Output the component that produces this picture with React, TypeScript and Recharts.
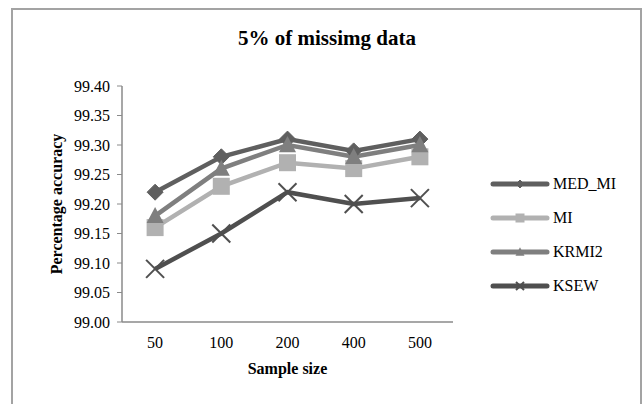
import React from 'react';
import { ComposedChart, Line, XAxis, YAxis, Legend, Label } from 'recharts';

// Sample sizes on the category axis
const sampleSizes = ['50', '100', '200', '400', '500'];

// Percentage accuracy per method
const medMiValues = [99.22, 99.28, 99.31, 99.29, 99.31];
const miValues = [99.16, 99.23, 99.27, 99.26, 99.28];
const krmi2Values = [99.18, 99.26, 99.3, 99.28, 99.3];
const ksewValues = [99.09, 99.15, 99.22, 99.2, 99.21];

// Value axis ticks
const yTicks = [99.0, 99.05, 99.1, 99.15, 99.2, 99.25, 99.3, 99.35, 99.4];

const FONT = '"Liberation Serif", "Times New Roman", serif';

type MarkerKind = 'diamond' | 'square' | 'triangle' | 'cross';

const seriesDefs: { key: string; color: string; marker: MarkerKind }[] = [
  { key: 'MED_MI', color: '#5f5f5f', marker: 'diamond' },
  { key: 'MI', color: '#b1b1b1', marker: 'square' },
  { key: 'KRMI2', color: '#7f7f7f', marker: 'triangle' },
  { key: 'KSEW', color: '#4f4f4f', marker: 'cross' },
];

const seriesValues: Record<string, number[]> = {
  MED_MI: medMiValues,
  MI: miValues,
  KRMI2: krmi2Values,
  KSEW: ksewValues,
};

const data = sampleSizes.map((size, i) => {
  const row: Record<string, string | number> = { size };
  seriesDefs.forEach((s) => {
    row[s.key] = seriesValues[s.key][i];
  });
  return row;
});

function drawMarker(kind: MarkerKind, cx: number, cy: number, size: number, color: string, key?: string) {
  const h = size / 2;
  if (kind === 'diamond') {
    return (
      <polygon
        key={key}
        points={`${cx},${cy - h} ${cx + h},${cy} ${cx},${cy + h} ${cx - h},${cy}`}
        fill={color}
        stroke={color}
      />
    );
  }
  if (kind === 'square') {
    return <rect key={key} x={cx - h} y={cy - h} width={size} height={size} fill={color} />;
  }
  if (kind === 'triangle') {
    return (
      <polygon
        key={key}
        points={`${cx},${cy - h * 1.05} ${cx + h},${cy + h * 0.85} ${cx - h},${cy + h * 0.85}`}
        fill={color}
      />
    );
  }
  return (
    <g key={key} stroke={color} strokeWidth={2}>
      <line x1={cx - h} y1={cy - h} x2={cx + h} y2={cy + h} />
      <line x1={cx - h} y1={cy + h} x2={cx + h} y2={cy - h} />
    </g>
  );
}

const markerSizes: Record<MarkerKind, number> = {
  diamond: 16,
  square: 17,
  triangle: 17,
  cross: 18,
};

const legendMarkerSizes: Record<MarkerKind, number> = {
  diamond: 8,
  square: 9,
  triangle: 9,
  cross: 8,
};

function LegendContent() {
  return (
    <div style={{ fontFamily: FONT, fontSize: 16, color: '#000' }}>
      {seriesDefs.map((s) => (
        <div key={s.key} style={{ display: 'flex', alignItems: 'center', height: 34 }}>
          <svg width={61} height={20} style={{ display: 'block' }}>
            <line x1={3} y1={10} x2={57} y2={10} stroke={s.color} strokeWidth={5} strokeLinecap="round" />
            {drawMarker(s.marker, 30, 10, legendMarkerSizes[s.marker], s.color)}
          </svg>
          <span style={{ marginLeft: 2, whiteSpace: 'nowrap' }}>{s.key}</span>
        </div>
      ))}
    </div>
  );
}

function YLabel(props: any) {
  const vb = props.viewBox || {};
  const cy = vb.y + vb.height / 2;
  return (
    <text
      x={56}
      y={cy}
      transform={`rotate(-90, 56, ${cy})`}
      textAnchor="middle"
      dominantBaseline="central"
      fontFamily={FONT}
      fontSize={16}
      fontWeight="bold"
      fill="#000"
    >
      Percentage accuracy
    </text>
  );
}

export default function App() {
  return (
    <div style={{ position: 'absolute', left: 0, top: 0, width: 642, height: 404, background: '#fff', overflow: 'hidden', fontFamily: FONT }}>
      <div
        style={{
          position: 'absolute',
          left: 11,
          top: 8,
          width: 631,
          height: 420,
          border: '2px solid #a3a3a3',
          boxSizing: 'border-box',
        }}
      />
      <div
        style={{
          position: 'absolute',
          left: 12,
          top: 28,
          width: 630,
          textAlign: 'center',
          fontFamily: FONT,
          fontWeight: 'bold',
          fontSize: 21,
          lineHeight: '21px',
          color: '#000',
        }}
      >
        5% of missimg data
      </div>
      <div style={{ position: 'absolute', left: 0, top: 0 }}>
        <ComposedChart
          width={642}
          height={404}
          data={data}
          margin={{ top: 86, right: 189, bottom: 22, left: 0 }}
          style={{ fontFamily: FONT }}
        >
          <XAxis
            dataKey="size"
            scale="band"
            height={60}
            tickLine={false}
            tickMargin={9}
            axisLine={{ stroke: '#8a8a8a', strokeWidth: 1.5 }}
            tick={{ fill: '#000', fontSize: 16, fontFamily: FONT }}
          >
            <Label
              value="Sample size"
              position="insideBottom"
              offset={8}
              style={{ fontFamily: FONT, fontSize: 16, fontWeight: 'bold', fill: '#000' }}
            />
          </XAxis>
          <YAxis
            width={122}
            domain={[99, 99.4]}
            ticks={yTicks}
            interval={0}
            tickSize={5}
            tickMargin={7}
            tickFormatter={(v: number) => v.toFixed(2)}
            axisLine={{ stroke: '#8a8a8a', strokeWidth: 1.5 }}
            tickLine={{ stroke: '#8a8a8a' }}
            tick={{ fill: '#000', fontSize: 16, fontFamily: FONT }}
          >
            <Label content={<YLabel />} />
          </YAxis>
          <Legend
            layout="vertical"
            align="center"
            verticalAlign="middle"
            content={<LegendContent />}
            wrapperStyle={{ position: 'absolute', left: 490, top: 167, width: 140 }}
          />
          {seriesDefs.map((s) => (
            <Line
              key={s.key}
              dataKey={s.key}
              name={s.key}
              stroke={s.color}
              strokeWidth={4.5}
              isAnimationActive={false}
              activeDot={false}
              dot={(p: any) => drawMarker(s.marker, p.cx, p.cy, markerSizes[s.marker], s.color, `${s.key}-${p.index}`)}
            />
          ))}
        </ComposedChart>
      </div>
    </div>
  );
}
